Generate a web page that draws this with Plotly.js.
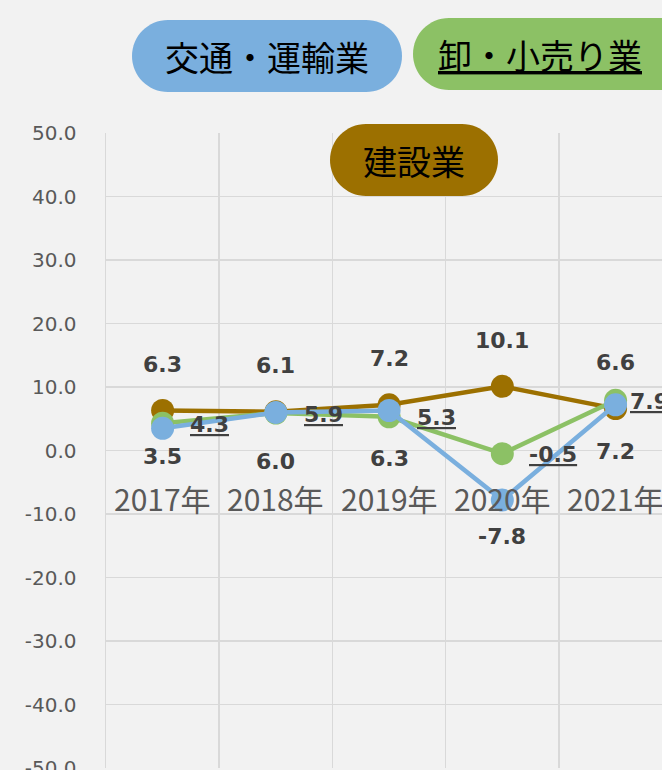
<!DOCTYPE html>
<html>
<head>
<meta charset="utf-8">
<script src="https://cdn.plot.ly/plotly-3.0.1.min.js"></script>
<style>
html,body{margin:0;padding:0;background:#f2f2f2;overflow:hidden;}
#chart{width:662px;height:770px;}
</style>
</head>
<body>
<div id="chart"></div>
<script>
// ---- data ----
var categories = ['2017年', '2018年', '2019年', '2020年', '2021年'];
var seriesNames = ['建設業', '卸・小売り業', '交通・運輸業'];
var construction = [6.3, 6.1, 7.2, 10.1, 6.6];
var wholesale = [4.3, 5.9, 5.3, -0.5, 7.9];
var transport = [3.5, 6.0, 6.3, -7.8, 7.2];
var yTicks = [-50, -40, -30, -20, -10, 0, 10, 20, 30, 40, 50];
var yTickText = ['-50.0', '-40.0', '-30.0', '-20.0', '-10.0', '0.0', '10.0', '20.0', '30.0', '40.0', '50.0'];

// ---- styles ----
var colors = ['#9c7000', '#8cc165', '#7aafde'];
var W = 662, H = 770;
var M = {l: 106, r: 0, t: 133, b: 2};
var plotW = W - M.l - M.r, plotH = H - M.t - M.b;
var labelFont = {family: 'DejaVu Sans', size: 22, color: '#404040'};
var blueLabelShift = [-28, -49, -48, -36, -47];
var greenLabelShift = [25, 26, 26, 25, 12];

function px(x) { return (x - M.l) / plotW; }
function py(y) { return (H - M.b - y) / plotH; }
function pill(x0, y0, x1, y1, color) {
  var r = (y1 - y0) / 2, k = 0.5523 * r;
  function P(x, y) { return px(x).toFixed(5) + ',' + py(y).toFixed(5); }
  var d = 'M' + P(x0 + r, y0) + ' L' + P(x1 - r, y0) +
    ' C' + P(x1 - r + k, y0) + ' ' + P(x1, y0 + r - k) + ' ' + P(x1, y0 + r) +
    ' C' + P(x1, y0 + r + k) + ' ' + P(x1 - r + k, y1) + ' ' + P(x1 - r, y1) +
    ' L' + P(x0 + r, y1) +
    ' C' + P(x0 + r - k, y1) + ' ' + P(x0, y0 + r + k) + ' ' + P(x0, y0 + r) +
    ' C' + P(x0, y0 + r - k) + ' ' + P(x0 + r - k, y0) + ' ' + P(x0 + r, y0) + ' Z';
  return {type: 'path', xref: 'paper', yref: 'paper', path: d, fillcolor: color,
          line: {width: 0}, layer: 'above'};
}

var allSeries = [construction, wholesale, transport];
var traces = allSeries.map(function (vals, i) {
  return {
    type: 'scatter', mode: 'lines+markers', name: seriesNames[i],
    x: categories, y: vals,
    line: {color: colors[i], width: 4.5},
    marker: {color: colors[i], size: 23, line: {width: 0}},
    hoverinfo: 'skip', cliponaxis: false
  };
});

var annotations = [];
categories.forEach(function (c, i) {
  annotations.push({x: c, y: 0, xref: 'x', yref: 'y', text: c, showarrow: false,
    yanchor: 'middle', yshift: -47,
    font: {family: 'Noto Sans CJK JP', size: 30, color: '#595959'}});
  annotations.push({x: c, y: construction[i], xref: 'x', yref: 'y',
    text: '<b>' + construction[i].toFixed(1) + '</b>', showarrow: false,
    yanchor: 'middle', yshift: 46, font: labelFont});
  annotations.push({x: c, y: wholesale[i], xref: 'x', yref: 'y',
    text: '<b><u>' + wholesale[i].toFixed(1) + '</u></b>', showarrow: false,
    xanchor: 'left', yanchor: 'middle', xshift: greenLabelShift[i], yshift: -1, font: labelFont});
  annotations.push({x: c, y: transport[i], xref: 'x', yref: 'y',
    text: '<b>' + transport[i].toFixed(1) + '</b>', showarrow: false,
    yanchor: 'middle', yshift: blueLabelShift[i], font: labelFont});
});

var pillFont = {family: 'Noto Sans CJK JP', size: 34, color: '#000000'};
annotations.push({xref: 'paper', yref: 'paper', x: px(267), y: py(57), text: seriesNames[2],
  showarrow: false, xanchor: 'center', yanchor: 'middle', font: pillFont});
annotations.push({xref: 'paper', yref: 'paper', x: px(540), y: py(54), text: '<u>' + seriesNames[1] + '</u>',
  showarrow: false, xanchor: 'center', yanchor: 'middle', font: pillFont});
annotations.push({xref: 'paper', yref: 'paper', x: px(414), y: py(160), text: seriesNames[0],
  showarrow: false, xanchor: 'center', yanchor: 'middle', font: pillFont});

var shapes = [
  pill(132, 20, 402, 92, colors[2]),
  pill(413, 18, 700, 90, colors[1]),
  pill(330, 124, 498, 196, colors[0])
];

var layout = {
  width: W, height: H,
  margin: M,
  paper_bgcolor: '#f2f2f2', plot_bgcolor: '#f2f2f2',
  showlegend: false,
  xaxis: {type: 'category', range: [-0.5, 4.41], tickson: 'boundaries',
    showticklabels: false, ticks: '', showgrid: true, gridcolor: '#d9d9d9', gridwidth: 1.5,
    zeroline: false, showline: false, fixedrange: true},
  yaxis: {range: [-50, 50], tickvals: yTicks, ticktext: yTickText, showgrid: true,
    gridcolor: '#d9d9d9', gridwidth: 1.5, zeroline: true, zerolinecolor: '#d9d9d9', zerolinewidth: 1.5,
    showline: true, linecolor: '#d9d9d9', linewidth: 1.5, ticks: '', ticklabelstandoff: 24,
    ticklabeloverflow: 'allow',
    tickfont: {family: 'DejaVu Sans', size: 20, color: '#595959'}, fixedrange: true},
  annotations: annotations,
  shapes: shapes
};

Plotly.newPlot('chart', traces, layout, {staticPlot: true, displayModeBar: false});
</script>
</body>
</html>
